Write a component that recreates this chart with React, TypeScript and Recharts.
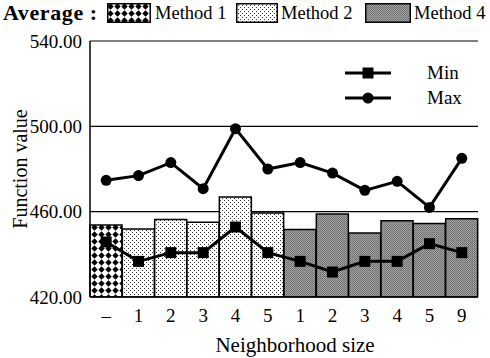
import React from "react";
import {
  ComposedChart,
  Bar,
  Line,
  XAxis,
  YAxis,
  CartesianGrid,
  Cell,
} from "recharts";

const categories = ["–", "1", "2", "3", "4", "5", "1", "2", "3", "4", "5", "9"];
const methods = [1, 2, 2, 2, 2, 2, 4, 4, 4, 4, 4, 4];
const averageValues = [453.7, 451.9, 456.3, 455.0, 466.9, 459.4, 451.6, 458.9, 450.0, 455.8, 454.4, 456.7];
const minValues = [445.8, 436.7, 440.8, 440.8, 452.8, 440.8, 436.7, 431.7, 436.7, 436.7, 445.0, 440.8];
const maxValues = [474.7, 476.9, 483.0, 470.8, 498.9, 480.0, 483.0, 478.1, 470.0, 474.2, 462.0, 485.0];
const yTicks = [420, 460, 500, 540];

const data = categories.map((c, i) => ({
  idx: i,
  label: c,
  method: methods[i],
  avg: averageValues[i],
  min: minValues[i],
  max: maxValues[i],
}));

const FONT = '"Liberation Serif", "Times New Roman", Times, "DejaVu Serif", serif';
const fillFor = (m: number) => (m === 1 ? "url(#pat1)" : m === 2 ? "url(#pat2)" : "url(#pat4)");

function Patterns() {
  return (
    <defs>
      <pattern id="pat1" width="7" height="7" patternUnits="userSpaceOnUse">
        <rect width="7" height="7" fill="#fff" />
        <path d="M3.5 0.3 L6.7 3.5 L3.5 6.7 L0.3 3.5 Z" fill="#000" />
      </pattern>
      <pattern id="pat2" width="4" height="4" patternUnits="userSpaceOnUse">
        <rect width="4" height="4" fill="#fff" />
        <rect x="0" y="0" width="1" height="1" fill="#333" />
        <rect x="2" y="2" width="1" height="1" fill="#333" />
      </pattern>
      <pattern id="pat4" width="2" height="2" patternUnits="userSpaceOnUse">
        <rect width="2" height="2" fill="#a2a2a2" />
        <rect x="0" y="0" width="1" height="1" fill="#6a6a6a" />
        <rect x="1" y="1" width="1" height="1" fill="#7a7a7a" />
      </pattern>
    </defs>
  );
}

const SquareDot = (props: any) => {
  const { cx, cy, index } = props;
  if (cx == null || cy == null) return null;
  return <rect key={`s${index}`} x={cx - 5.5} y={cy - 5.5} width={11} height={11} fill="#000" />;
};

const CircleDot = (props: any) => {
  const { cx, cy, index } = props;
  if (cx == null || cy == null) return null;
  return <circle key={`c${index}`} cx={cx} cy={cy} r={5.5} fill="#000" />;
};

function Swatch({ fill, left, width }: { fill: string; left: number; width: number }) {
  return (
    <svg width={width} height={20} style={{ position: "absolute", left, top: 3 }}>
      <rect x={0.75} y={0.75} width={width - 1.5} height={18.5} fill={fill} stroke="#000" strokeWidth={1.5} />
    </svg>
  );
}

function HeadText({ left, children, bold }: { left: number; children: React.ReactNode; bold?: boolean }) {
  return (
    <span
      style={{
        position: "absolute",
        left,
        top: 1,
        fontSize: bold ? 22 : 18.5,
        fontWeight: bold ? "bold" : "normal",
        whiteSpace: "nowrap",
        lineHeight: "24px",
        letterSpacing: bold ? 0.6 : 0,
      }}
    >
      {children}
    </span>
  );
}

function LegendItem({ label, marker }: { label: string; marker: "square" | "circle" }) {
  return (
    <div style={{ display: "flex", alignItems: "center", height: 25 }}>
      <svg width={46} height={14}>
        <line x1={0} y1={7} x2={46} y2={7} stroke="#000" strokeWidth={3} />
        {marker === "square" ? (
          <rect x={17.5} y={1.5} width={11} height={11} fill="#000" />
        ) : (
          <circle cx={23} cy={7} r={5.5} fill="#000" />
        )}
      </svg>
      <span style={{ marginLeft: 36, fontSize: 19 }}>{label}</span>
    </div>
  );
}

export default function App() {
  return (
    <div
      style={{
        position: "absolute",
        left: 0,
        top: 0,
        width: 490,
        height: 358,
        background: "#fff",
        fontFamily: FONT,
        color: "#000",
      }}
    >
      <ComposedChart
        width={490}
        height={358}
        data={data}
        margin={{ top: 41, right: 12, left: 0, bottom: 0 }}
        barCategoryGap={0}
        style={{ fontFamily: FONT }}
      >
        <Patterns />
        <CartesianGrid vertical={false} stroke="#000" strokeWidth={1.2} />
        <XAxis
          dataKey="idx"
          tickFormatter={(i: number) => categories[i]}
          tickLine={false}
          axisLine={{ stroke: "#000", strokeWidth: 1.5 }}
          height={61}
          tick={{ fill: "#000", fontSize: 19, fontFamily: FONT }}
          tickMargin={6}
          interval={0}
          label={{
            value: "Neighborhood size",
            position: "insideBottom",
            offset: 6,
            dx: 11,
            fill: "#000",
            fontSize: 21,
            fontFamily: FONT,
          }}
        />
        <YAxis
          domain={[420, 540]}
          ticks={yTicks}
          tickFormatter={(v: number) => v.toFixed(2)}
          tickLine={false}
          axisLine={{ stroke: "#000", strokeWidth: 1.5 }}
          width={90}
          tick={{ fill: "#000", fontSize: 19, fontFamily: FONT }}
          tickMargin={2}
          allowDataOverflow
          label={{
            value: "Function value",
            angle: -90,
            position: "insideLeft",
            offset: 20,
            fill: "#000",
            fontSize: 20,
            fontFamily: FONT,
            style: { textAnchor: "middle" },
          }}
        />
        <YAxis
          yAxisId="r"
          orientation="right"
          domain={[420, 540]}
          width={0}
          tick={false}
          tickLine={false}
          axisLine={{ stroke: "#000", strokeWidth: 1.5 }}
        />
        <Bar dataKey="avg" stroke="#000" strokeWidth={1.5} isAnimationActive={false}>
          {data.map((d, i) => (
            <Cell key={i} fill={fillFor(d.method)} />
          ))}
        </Bar>
        <Line
          dataKey="max"
          stroke="#000"
          strokeWidth={3}
          dot={CircleDot}
          activeDot={false}
          isAnimationActive={false}
        />
        <Line
          dataKey="min"
          stroke="#000"
          strokeWidth={3}
          dot={SquareDot}
          activeDot={false}
          isAnimationActive={false}
        />
      </ComposedChart>

      <HeadText left={3} bold>Average :</HeadText>
      <Swatch fill="url(#pat1)" left={107} width={44} />
      <HeadText left={155}>Method 1</HeadText>
      <Swatch fill="url(#pat2)" left={236} width={42} />
      <HeadText left={281}>Method 2</HeadText>
      <Swatch fill="url(#pat4)" left={365} width={46} />
      <HeadText left={414}>Method 4</HeadText>

      <div style={{ position: "absolute", left: 345, top: 60, fontSize: 19 }}>
        <LegendItem label="Min" marker="square" />
        <LegendItem label="Max" marker="circle" />
      </div>
    </div>
  );
}
